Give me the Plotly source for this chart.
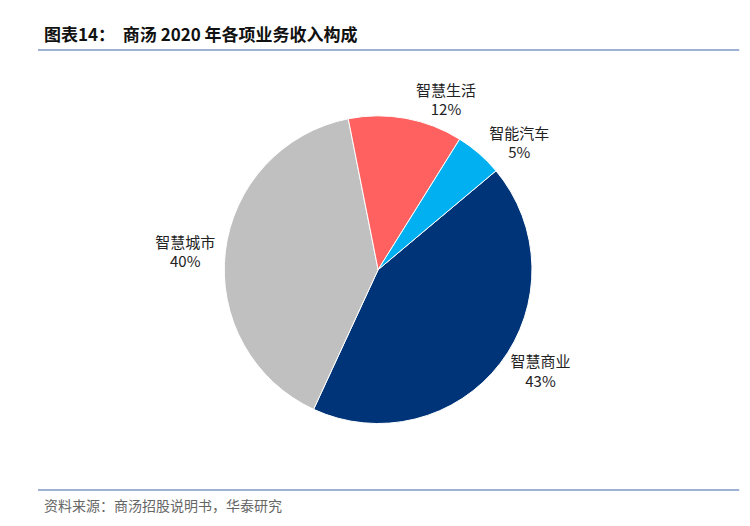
import plotly.graph_objects as go

labels = ["智慧商业", "智慧城市", "智慧生活", "智能汽车"]
values = [43, 40, 12, 5]
colors = ["#003478", "#c0c0c0", "#ff6161", "#00b0f0"]

font = "Noto Sans CJK SC"

fig = go.Figure(go.Pie(
    labels=labels, values=values, sort=False, direction="clockwise", rotation=50,
    marker=dict(colors=colors, line=dict(color="white", width=1)),
    texttemplate="%{label}<br>%{value}%", textposition="outside",
    textfont=dict(size=15, color="#222", family=font),
    outsidetextfont=dict(size=15, color="#222", family=font),
    showlegend=False, domain=dict(x=[0.287, 0.7], y=[0.21, 0.795]),
))

fig.update_layout(
    width=750, height=526, margin=dict(l=0, r=0, t=0, b=0),
    paper_bgcolor="white", plot_bgcolor="white",
    font=dict(family=font),
    shapes=[
        dict(type="line", xref="paper", yref="paper", x0=0.04, x1=0.975, y0=1-42/526, y1=1-42/526,
             line=dict(color="#3a64a8", width=1.2)),
        dict(type="line", xref="paper", yref="paper", x0=0.04, x1=0.975, y0=1-482/526, y1=1-482/526,
             line=dict(color="#3a64a8", width=1)),
    ],
    annotations=[
        dict(text="<b>图表14：  商汤 2020 年各项业务收入构成</b>", x=0.045, y=1-26/526, xref="paper", yref="paper",
             xanchor="left", yanchor="middle", showarrow=False, font=dict(size=17, color="#111")),
        dict(text="资料来源：商汤招股说明书，华泰研究", x=0.045, y=1-497/526, xref="paper", yref="paper",
             xanchor="left", yanchor="middle", showarrow=False, font=dict(size=14, color="#666")),
    ],
)

fig.write_html("out.html")
